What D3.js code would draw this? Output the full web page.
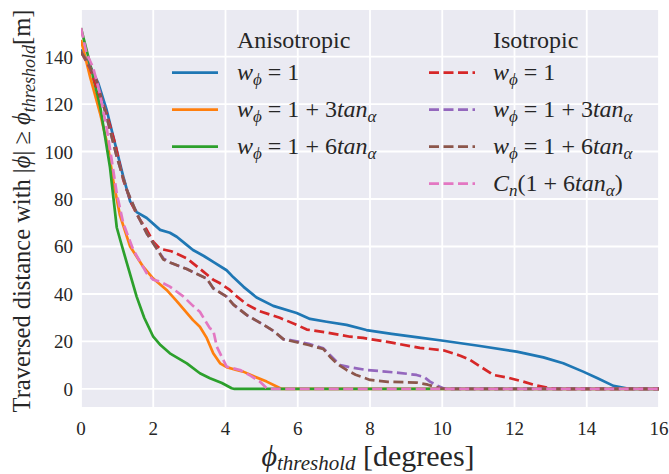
<!DOCTYPE html>
<html>

<head>
    <meta charset="UTF-8" />
    <script src="https://d3js.org/d3.v7.min.js"></script>
    <style>
        body { margin: 0; background: #fff; }
    </style>
</head>

<body>
    <script>
        // [phi threshold (deg), traversed distance (m)]
        const anisoW1 = [[0, 143], [0.25, 136], [0.48, 128.7], [0.71, 117.5], [0.94, 103.4], [1.17, 89.4], [1.36, 79], [1.54, 74.5],
            [1.82, 72], [2.19, 67], [2.46, 65.8], [2.65, 64.1], [2.9, 61], [3.1, 58.5], [3.4, 56], [3.66, 53.5], [4.03, 50], [4.22, 47],
            [4.5, 43], [4.86, 38.5], [5.32, 35], [5.97, 32], [6.34, 29.5], [6.8, 28.3], [7.35, 27], [7.9, 24.8], [8.6, 23.2], [9.38, 21.6],
            [10.03, 20.3], [11, 18.2], [12.06, 15.7], [12.8, 13.3], [13.35, 10.8], [13.9, 7.3], [14.3, 4.5], [14.74, 1.3], [15.1, 0.3],
            [15.3, 0], [16, 0]];
        const aniso3tan = [[0, 147], [0.25, 131.5], [0.53, 116], [0.76, 101], [0.9, 87], [1.08, 73], [1.36, 60], [1.72, 51.5], [2.0, 46.5],
            [2.37, 41.7], [2.65, 37], [3.1, 29], [3.29, 26.2], [3.48, 21.5], [3.66, 15], [3.85, 10.8], [4.03, 9.2], [4.3, 8], [4.49, 7.3],
            [4.8, 5.2], [5.14, 3.1], [5.46, 0.7], [5.55, 0], [16, 0]];
        const aniso6tan = [[0, 152], [0.25, 137], [0.53, 119], [0.8, 93.6], [0.99, 68], [1.1, 62], [1.27, 53], [1.54, 38.9], [1.75, 30],
            [2.0, 22], [2.2, 18.5], [2.46, 15], [2.93, 10.8], [3.29, 6.6], [3.57, 4.5], [3.9, 2.5], [4.17, 0.3], [4.25, 0], [16, 0]];
        const isoW1 = [[0, 142], [0.25, 135], [0.43, 127], [0.71, 116], [0.95, 103], [1.17, 88], [1.4, 78], [1.6, 72], [1.82, 67], [2.0, 62],
            [2.19, 59], [2.5, 58], [2.93, 55], [3.3, 50.5], [3.66, 46], [3.85, 44.5], [4.12, 41.7], [4.31, 39], [4.6, 35.5], [4.95, 32.7],
            [5.5, 30], [5.97, 27], [6.25, 25], [6.8, 23.8], [7.45, 22], [7.81, 21.5], [8.6, 19.5], [9.38, 17.3], [10.03, 16.3], [10.5, 14],
            [10.77, 12.2], [11.1, 9], [11.41, 5.9], [11.8, 4.8], [12.24, 3.1], [12.6, 1.5], [12.98, 0.3], [13.2, 0], [16, 0]];
        const iso3tan = [[0, 142], [0.2, 137], [0.43, 130], [0.71, 114.6], [0.99, 97.8], [1.27, 83.8], [1.54, 74], [1.82, 65.5], [2.1, 59],
            [2.28, 55], [2.5, 53], [2.93, 50.5], [3.2, 48.5], [3.48, 46.5], [3.66, 42.4], [4.03, 38.9], [4.22, 35.5], [4.6, 31], [5.0, 27.5],
            [5.32, 24.5], [5.6, 21], [5.79, 20.6], [6.3, 19], [6.71, 17.1], [6.89, 14.3], [7.17, 10.1], [7.4, 9.3], [7.9, 8], [8.28, 7.5],
            [8.8, 6.8], [9.29, 5.9], [9.5, 5], [9.66, 3.1], [9.85, 1.5], [10.03, 0.3], [10.3, 0], [16, 0]];
        const iso6tan = [[0, 142], [0.2, 137], [0.43, 130], [0.71, 114.6], [0.99, 97.8], [1.27, 83.8], [1.54, 74], [1.82, 65.5], [2.1, 59],
            [2.28, 54.5], [2.5, 53], [2.93, 50.5], [3.2, 48.5], [3.48, 46.5], [3.66, 42.4], [4.03, 38.9], [4.22, 35.5], [4.6, 31], [5.0, 27.5],
            [5.32, 24.5], [5.6, 21], [5.79, 20.3], [6.3, 18.5], [6.71, 16.8], [6.89, 13.6], [7.1, 10.5], [7.35, 8], [7.6, 6], [8.0, 3.8],
            [8.5, 3], [9.29, 2.7], [9.6, 1.8], [9.94, 0.3], [10.1, 0], [16, 0]];
        const isoCn = [[0, 152], [0.16, 141], [0.33, 135.6], [0.5, 126], [0.71, 110], [0.85, 96.4], [0.99, 82.4], [1.17, 69.8], [1.45, 58.5],
            [1.82, 48.7], [2.0, 46], [2.19, 45.2], [2.46, 43.1], [2.83, 39], [3.1, 35], [3.29, 32.5], [3.57, 25.5], [3.66, 24.8], [3.76, 17.8],
            [3.85, 15], [4.03, 9.4], [4.4, 8], [4.7, 5.5], [4.95, 3.1], [5.14, 0.3], [5.2, 0], [16, 0]];

        const xTicks = [0, 2, 4, 6, 8, 10, 12, 14, 16];
        const yTicks = [0, 20, 40, 60, 80, 100, 120, 140];

        const width = 669;
        const height = 474;
        const margin = ({ top: 10, right: 10, bottom: 67, left: 81 });

        const svg = d3.select("body")
            .append("svg")
            .attr("width", width)
            .attr("height", height)
            .attr("font-family", "'Liberation Serif', 'Times New Roman', Times, 'DejaVu Serif', 'Noto Serif', serif")
            .attr("fill", "#262626");

        const x = d3.scaleLinear()
            .domain([0, 16])
            .range([margin.left, width - margin.right]);

        const y = d3.scaleLinear()
            .domain([-7.6, 159.6])
            .range([height - margin.bottom, margin.top]);

        svg.append("rect")
            .attr("x", margin.left)
            .attr("y", margin.top)
            .attr("width", width - margin.left - margin.right)
            .attr("height", height - margin.top - margin.bottom)
            .attr("fill", "#eaeaf2");

        svg.append("clipPath").attr("id", "clip")
            .append("rect")
            .attr("x", margin.left)
            .attr("y", margin.top)
            .attr("width", width - margin.left - margin.right)
            .attr("height", height - margin.top - margin.bottom);

        // grid
        svg.append("g")
            .selectAll("line")
            .data(xTicks)
            .join("line")
            .attr("x1", d => x(d)).attr("x2", d => x(d))
            .attr("y1", margin.top).attr("y2", height - margin.bottom)
            .attr("stroke", "white").attr("stroke-width", 1.8);
        svg.append("g")
            .selectAll("line")
            .data(yTicks)
            .join("line")
            .attr("y1", d => y(d)).attr("y2", d => y(d))
            .attr("x1", margin.left).attr("x2", width - margin.right)
            .attr("stroke", "white").attr("stroke-width", 1.8);

        // tick labels
        svg.append("g")
            .selectAll("text")
            .data(xTicks)
            .join("text")
            .attr("x", d => x(d))
            .attr("y", 435)
            .attr("text-anchor", "middle")
            .attr("font-size", 19)
            .text(d => d);
        svg.append("g")
            .selectAll("text")
            .data(yTicks)
            .join("text")
            .attr("x", 73)
            .attr("y", d => y(d) + 7)
            .attr("text-anchor", "end")
            .attr("font-size", 19)
            .text(d => d);

        const series = [
            { data: anisoW1, color: "#1f77b4", dash: null },
            { data: aniso3tan, color: "#ff7f0e", dash: null },
            { data: aniso6tan, color: "#2ca02c", dash: null },
            { data: isoW1, color: "#d62728", dash: "10,4.5" },
            { data: iso3tan, color: "#9467bd", dash: "10,4.5" },
            { data: iso6tan, color: "#8c564b", dash: "10,4.5" },
            { data: isoCn, color: "#e377c2", dash: "10,4.5" }
        ];

        const line = d3.line()
            .x(d => x(d[0]))
            .y(d => y(d[1]));

        svg.append("g")
            .attr("clip-path", "url(#clip)")
            .selectAll("path")
            .data(series)
            .join("path")
            .attr("fill", "none")
            .attr("stroke", d => d.color)
            .attr("stroke-width", 2.7)
            .attr("stroke-linejoin", "round")
            .attr("stroke-dasharray", d => d.dash)
            .attr("d", d => line(d.data));

        // legend
        function mathLabel(g, parts) {
            const t = g.append("text").attr("font-size", 24);
            parts.forEach(p => {
                const s = t.append("tspan").text(p.t);
                if (p.i) s.attr("font-style", "italic");
                if (p.sub) s.attr("font-size", 17).attr("dy", 5);
                if (p.up) s.attr("dy", -5);
            });
            return t;
        }
        const wphi = [{ t: "w", i: true }, { t: "\u03d5", i: true, sub: true }, { t: " = 1", up: true }];
        const labels3 = wphi.concat([{ t: " + 3" }, { t: "tan", i: true }, { t: "\u03b1", i: true, sub: true }]);
        const labels6 = wphi.concat([{ t: " + 6" }, { t: "tan", i: true }, { t: "\u03b1", i: true, sub: true }]);
        const labelsCn = [{ t: "C", i: true }, { t: "n", i: true, sub: true }, { t: "(1 + 6", up: true }, { t: "tan", i: true },
            { t: "\u03b1", i: true, sub: true }, { t: ")", up: true }];

        const legendCols = [
            { title: "Anisotropic", lx: 172, tx: 237, items: [series[0], series[1], series[2]], labels: [wphi, labels3, labels6] },
            { title: "Isotropic", lx: 429, tx: 493, items: [series[3], series[4], series[5], series[6]], labels: [wphi, labels3, labels6, labelsCn] }
        ];
        legendCols.forEach(col => {
            const g = svg.append("g");
            g.append("text").attr("x", col.tx).attr("y", 48).attr("font-size", 24).text(col.title);
            col.items.forEach((s, i) => {
                const ly = 72.7 + i * 37;
                g.append("line")
                    .attr("x1", col.lx).attr("x2", col.lx + 46)
                    .attr("y1", ly).attr("y2", ly)
                    .attr("stroke", s.color).attr("stroke-width", 2.7)
                    .attr("stroke-dasharray", s.dash);
                mathLabel(g, col.labels[i]).attr("x", col.tx).attr("y", ly + 7.5);
            });
        });

        // axis labels
        const xl = svg.append("text")
            .attr("x", 368).attr("y", 466)
            .attr("text-anchor", "middle")
            .attr("font-size", 30);
        xl.append("tspan").attr("font-style", "italic").text("\u03d5");
        xl.append("tspan").attr("font-style", "italic").attr("font-size", 21).attr("dy", 4).text("threshold");
        xl.append("tspan").attr("dy", -4).text(" [degrees]");

        const yl = svg.append("text")
            .attr("transform", "translate(30,211) rotate(-90)")
            .attr("text-anchor", "middle")
            .attr("font-size", 24.5);
        yl.append("tspan").text("Traversed distance with |");
        yl.append("tspan").attr("font-style", "italic").text("\u03d5");
        yl.append("tspan").text("| \u2265 ");
        yl.append("tspan").attr("font-style", "italic").text("\u03d5");
        yl.append("tspan").attr("font-style", "italic").attr("font-size", 18).attr("dy", 5).text("threshold");
        yl.append("tspan").attr("dy", -5).text("[m]");
    </script>
</body>

</html>
